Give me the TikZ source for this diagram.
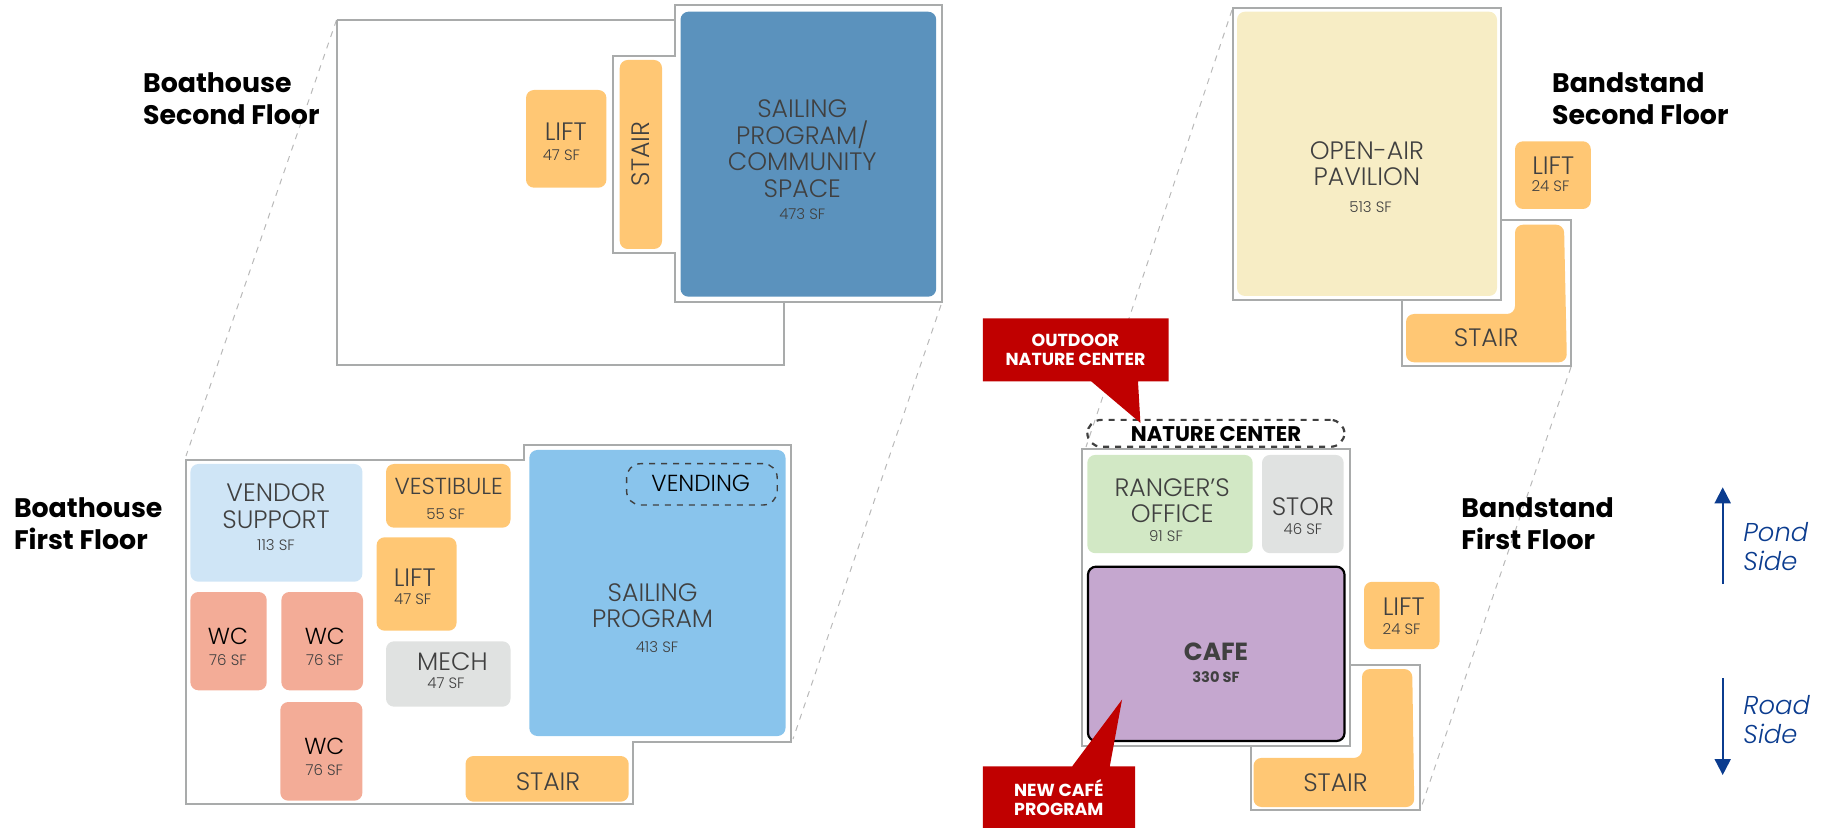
\documentclass[tikz,border=0pt]{standalone}
\usepackage{fontspec}
\usepackage{xcolor}
\usetikzlibrary{fit,arrows.meta}
\setmainfont{Poppins}[UprightFont=* Light,BoldFont=* Bold,ItalicFont=* Light Italic]
\definecolor{stairfill}{HTML}{FFC774}
\definecolor{sailtop}{HTML}{5B92BD}
\definecolor{sailfill}{HTML}{89C4EC}
\definecolor{vendorfill}{HTML}{CFE5F6}
\definecolor{wcfill}{HTML}{F3AC97}
\definecolor{mechfill}{HTML}{E0E2E1}
\definecolor{rangerfill}{HTML}{D2E8C5}
\definecolor{cafefill}{HTML}{C5A7CF}
\definecolor{pavilionfill}{HTML}{F7EDC5}
\definecolor{calloutred}{HTML}{C00000}
\definecolor{wallgray}{HTML}{A9ABAB}
\definecolor{roadblue}{HTML}{0B3C8F}
\definecolor{inkgray}{HTML}{404040}

\begin{document}
\begin{tikzpicture}[x=0.5pt,y=-0.5pt,
                    wall/.style={draw=wallgray,line width=1pt},
                    link/.style={draw=gray!55,line width=0.5pt,dashed},
                    room/.style={fill=#1,rounded corners=4pt,inner sep=0pt},
                    dashroom/.style={draw=inkgray,line width=0.7pt,dashed,rounded corners=7pt,inner sep=0pt},
                    rmname/.style={align=center,inner sep=0pt,text=inkgray,font=\fontsize{12.6}{13.3}\selectfont},
                    smname/.style={inner sep=0pt,text=inkgray,font=\fontsize{11.6}{13.3}\selectfont},
                    rmarea/.style={inner sep=0pt,text=inkgray,font=\fontsize{7.5}{8}\selectfont},
                    flrtitle/.style={align=left,anchor=west,inner sep=0pt,font=\fontsize{13.4}{16}\selectfont\bfseries},
                    callout/.style={align=center,inner sep=0pt,text=white,font=\fontsize{8.7}{9.6}\selectfont\bfseries},
                    sidetext/.style={align=left,anchor=west,inner sep=0pt,text=roadblue,font=\fontsize{12.9}{14.5}\selectfont\itshape},
                    sidearrow/.style={roadblue,line width=1pt,-{Triangle[length=8pt,width=8pt]}}]
                    \useasboundingbox (0,0) rectangle (1826,828);
                    % connecting lines between floors
                    \coordinate (b2a) at (336.5,20);
                    \coordinate (b1a) at (186,456);
                    \coordinate (b2b) at (941,305);
                    \coordinate (b1b) at (793,739);
                    \coordinate (s2a) at (1232,10);
                    \coordinate (s1a) at (1086,447);
                    \coordinate (s2b) at (1571,367);
                    \coordinate (s1b) at (1421,808);
                    \draw[link] (b2a) -- (b1a);
                    \draw[link] (b2b) -- (b1b);
                    \draw[link] (s2a) -- (s1a);
                    \draw[link] (s2b) -- (s1b);
                    % walls
                    \draw[wall] (336.5,20) -- (675.3,20) -- (675.3,5.3) -- (941.5,5.3) -- (941.5,302.3) -- (675.3,302.3) -- (675.3,253.3) -- (612.8,253.3) -- (612.8,55.7) -- (675.3,55.7) -- (675.3,20);
                    \draw[wall] (783.8,302.3) -- (783.8,365) -- (336.5,365) -- (336.5,20);
                    \draw[wall] (186.2,460) -- (524,460) -- (524,445) -- (790.8,445) -- (790.8,741.7) -- (632.8,741.7) -- (632.8,804.3) -- (186.2,804.3) -- cycle;
                    \draw[wall] (1232.7,7.7) rectangle (1500.6,300);
                    \draw[wall] (1500.6,220.3) -- (1571.3,220.3) -- (1571.3,365.7) -- (1401.6,365.7) -- (1401.6,300);
                    \draw[wall] (1082.4,449.2) rectangle (1349.8,746.2);
                    \draw[wall] (1349.8,664.7) -- (1420,664.7) -- (1420,810) -- (1250.6,810) -- (1250.6,746.2);
                    % boathouse second floor
                    \node[room=sailtop,fit={(680.5,11.7) (936.2,296.7)}] (comroom) {};
                    \node[rmname] (comname) at (802.3,148.5) {SAILING\\PROGRAM/\\COMMUNITY\\SPACE};
                    \node[rmarea] (comarea) at (802.3,214) {473 SF};
                    \node[room=stairfill,fit={(526,90) (606.4,187.7)}] (liftbb) {};
                    \node[rmname] (liftbbname) at (565.7,131.7) {LIFT};
                    \node[rmarea] (liftbbarea) at (561.4,155.3) {47 SF};
                    \node[room=stairfill,fit={(619.7,60) (662,249)}] (stairbb) {};
                    \node[rmname,rotate=90] (stairbbname) at (640.9,154) {STAIR};
                    \node[flrtitle] (titlebb) at (142.7,99) {Boathouse\\Second Floor};
                    % boathouse first floor
                    \node[room=sailfill,fit={(529.3,450) (785.5,736)}] (sailroom) {};
                    \node[rmname] (sailname) at (652.7,605.7) {SAILING\\PROGRAM};
                    \node[rmarea] (sailarea) at (657,647) {413 SF};
                    \node[dashroom,fit={(626.6,463.7) (777.2,505)}] (vendroom) {};
                    \node[smname,text=black] (vendname) at (700.8,483.3) {VENDING};
                    \node[room=vendorfill,fit={(190.4,464) (362.4,581.7)}] (vendorroom) {};
                    \node[rmname] (vendorname) at (276,506) {VENDOR\\SUPPORT};
                    \node[rmarea] (vendorarea) at (276,545) {113 SF};
                    \node[room=stairfill,fit={(386,464) (510.5,527.7)}] (vestroom) {};
                    \node[smname] (vestname) at (448.7,486.7) {VESTIBULE};
                    \node[rmarea] (vestarea) at (445.6,514) {55 SF};
                    \node[room=stairfill,fit={(376.6,537.3) (456.6,630.7)}] (liftba) {};
                    \node[rmname] (liftbaname) at (414.7,577.7) {LIFT};
                    \node[rmarea] (liftbaarea) at (412.7,599) {47 SF};
                    \node[room=wcfill,fit={(190.4,592) (266.7,690.3)}] (wcone) {};
                    \node[smname,text=black] (wconename) at (228,636.7) {WC};
                    \node[rmarea] (wconearea) at (228,660) {76 SF};
                    \node[room=wcfill,fit={(281.4,592) (363,690.3)}] (wctwo) {};
                    \node[smname,text=black] (wctwoname) at (324.8,636.7) {WC};
                    \node[rmarea] (wctwoarea) at (324.8,660) {76 SF};
                    \node[room=wcfill,fit={(280.3,702) (362.4,800.7)}] (wcthree) {};
                    \node[smname,text=black] (wcthreename) at (324.3,746.7) {WC};
                    \node[rmarea] (wcthreearea) at (324.3,770) {76 SF};
                    \node[room=mechfill,fit={(386,641.3) (510.5,706.7)}] (mechroom) {};
                    \node[rmname] (mechname) at (452.4,661.7) {MECH};
                    \node[rmarea] (mecharea) at (446,683.3) {47 SF};
                    \node[room=stairfill,fit={(465.5,756) (628.7,801.7)}] (stairba) {};
                    \node[rmname] (stairbaname) at (548,781.7) {STAIR};
                    \node[flrtitle] (titleba) at (13.6,524) {Boathouse\\First Floor};
                    % bandstand second floor
                    \node[room=pavilionfill,fit={(1237,11.7) (1497,296)}] (pavroom) {};
                    \node[rmname] (pavname) at (1366.9,163.7) {OPEN-AIR\\PAVILION};
                    \node[rmarea] (pavarea) at (1370.5,207.3) {513 SF};
                    \node[room=stairfill,fit={(1515,141.3) (1590.8,209)}] (liftsb) {};
                    \node[rmname] (liftsbname) at (1553.3,166) {LIFT};
                    \node[rmarea] (liftsbarea) at (1550.5,186) {24 SF};
                    \fill[stairfill,rounded corners=4pt] (1515,224.7) -- (1564,224.7) -- (1566.9,362.3) -- (1406,362.3) -- (1406,314) -- (1515,314) -- cycle;
                    \node[rmname] (stairsbname) at (1486.2,337.3) {STAIR};
                    \node[flrtitle] (titlesb) at (1551.7,99) {Bandstand\\Second Floor};
                    % bandstand first floor
                    \node[dashroom,line width=1.1pt,fit={(1087.3,419.9) (1344.5,446.8)}] (natroom) {};
                    \node[inner sep=0pt,font=\fontsize{10.6}{11}\selectfont\bfseries] (natname) at (1216,433.7) {NATURE CENTER};
                    \node[room=rangerfill,fit={(1087.3,454.9) (1252.7,553.2)}] (rangerroom) {};
                    \node[rmname] (rangername) at (1172.2,500.7) {RANGER'S\\OFFICE};
                    \node[rmarea] (rangerarea) at (1166,535.7) {91 SF};
                    \node[room=mechfill,fit={(1262,454.9) (1343.7,553.2)}] (storroom) {};
                    \node[rmname] (storname) at (1302.9,506.4) {STOR};
                    \node[rmarea] (storarea) at (1302.9,529.3) {46 SF};
                    \node[room=cafefill,draw=black,line width=1.1pt,fit={(1088,566.7) (1344.5,741)}] (caferoom) {};
                    \node[rmname,font=\fontsize{12.4}{13}\selectfont\bfseries] (cafename) at (1216,651.5) {CAFE};
                    \node[rmarea,font=\fontsize{7.3}{8}\selectfont\bfseries] (cafearea) at (1216,677) {330 SF};
                    \node[room=stairfill,fit={(1364,581.8) (1439.6,649.2)}] (liftsa) {};
                    \node[rmname] (liftsaname) at (1403.7,606.4) {LIFT};
                    \node[rmarea] (liftsaarea) at (1401.6,629) {24 SF};
                    \fill[stairfill,rounded corners=4pt] (1362,669) -- (1412.2,669) -- (1414.3,807) -- (1253.5,807) -- (1253.5,757.9) -- (1362,757.9) -- cycle;
                    \node[rmname] (stairsaname) at (1335.5,782.2) {STAIR};
                    \node[flrtitle] (titlesa) at (1461,524) {Bandstand\\First Floor};
                    % callouts
                    \fill[calloutred] (982.9,318.5) -- (1168.6,318.5) -- (1168.6,381.5) -- (1138,381.5) -- (1140.4,422.9) -- (1091.4,381.5) -- (982.9,381.5) -- cycle;
                    \node[callout] (natcall) at (1075.5,350) {OUTDOOR\\NATURE CENTER};
                    \fill[calloutred] (982.9,766.3) -- (1072.2,766.3) -- (1122,699.7) -- (1109.8,766.3) -- (1135,766.3) -- (1135,828) -- (982.9,828) -- cycle;
                    \node[callout] (cafecall) at (1058.8,797.8) {NEW CAFÉ\\PROGRAM};
                    % pond and road
                    \coordinate (pondtail) at (1722.7,584);
                    \coordinate (pondhead) at (1722.7,487.3);
                    \coordinate (roadtail) at (1722.7,678.3);
                    \coordinate (roadhead) at (1722.7,775);
                    \draw[sidearrow] (pondtail) -- (pondhead);
                    \draw[sidearrow] (roadtail) -- (roadhead);
                    \node[sidetext] (pondname) at (1743,547) {Pond\\Side};
                    \node[sidetext] (roadname) at (1743,720) {Road\\Side};
\end{tikzpicture}
\end{document}
